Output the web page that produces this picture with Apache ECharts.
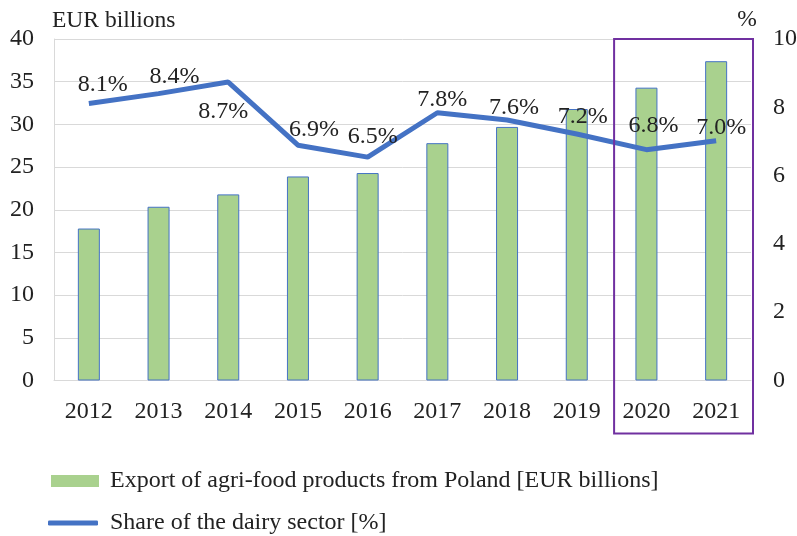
<!DOCTYPE html>
<html>
<head>
<meta charset="utf-8">
<script src="https://cdn.jsdelivr.net/npm/echarts@6/dist/echarts.min.js"></script>
<style>
html,body{margin:0;padding:0;background:#fff;}
#chart{width:797px;height:536px;}
</style>
</head>
<body>
<div id="chart"></div>
<script>
const years = ['2012','2013','2014','2015','2016','2017','2018','2019','2020','2021'];
const exportValues = [17.8, 20.35, 21.8, 23.9, 24.3, 27.8, 29.7, 31.8, 34.3, 37.4];
const dairyShare = [8.11, 8.4, 8.74, 6.89, 6.54, 7.84, 7.63, 7.22, 6.76, 7.02];
const leftTicks = {min: 0, max: 40, interval: 5};
const rightTicks = {min: 0, max: 10, interval: 2};
const barName = 'Export of agri-food products from Poland [EUR billions]';
const lineName = 'Share of the dairy sector [%]';

// label placement tweaks (style only)
const labelOffsets = [[14,-2],[16,0],[-5,13],[16,2],[5,-3],[5,4],[7,5],[6,0],[7,-7],[5,4]];
const labelPositions = ['top','top','bottom','top','top','top','top','top','top','top'];

const FONT = '"Liberation Serif", "Times New Roman", serif';
const TXT = '#222';
const FS = 24;
const BLUE = '#4472C4';

const chart = echarts.init(document.getElementById('chart'), null, {renderer: 'canvas'});

const lineData = dairyShare.map((v, i) => ({
  value: v,
  label: {show: true, position: labelPositions[i], offset: labelOffsets[i]}
}));

const option = {
  animation: false,
  backgroundColor: '#fff',
  textStyle: {fontFamily: FONT, color: TXT},
  grid: {left: 54, right: 46, top: 39, bottom: 155.5, containLabel: false, outerBoundsMode: 'none'},
  legend: [
    {
      orient: 'horizontal',
      left: 46,
      top: 464,
      itemWidth: 48,
      itemHeight: 12,
      textStyle: {fontFamily: FONT, fontSize: FS, color: TXT, padding: [0, 0, 0, 6]},
      data: [{name: barName, icon: 'rect', itemStyle: {borderWidth: 0}}]
    },
    {
      orient: 'horizontal',
      left: 43,
      top: 506,
      itemWidth: 50,
      itemHeight: 5,
      textStyle: {fontFamily: FONT, fontSize: FS, color: TXT, padding: [0, 0, 0, 7]},
      data: [{name: lineName, icon: 'roundRect', itemStyle: {color: BLUE, opacity: 1}}]
    }
  ],
  xAxis: {
    type: 'category',
    data: years,
    axisLine: {show: true, lineStyle: {color: '#D9D9D9', width: 1}},
    axisTick: {show: false},
    axisLabel: {fontFamily: FONT, fontSize: FS, color: TXT, margin: 19}
  },
  yAxis: [
    {
      type: 'value',
      name: 'EUR billions',
      nameLocation: 'end',
      nameGap: 6,
      nameTextStyle: {fontFamily: FONT, fontSize: 23.5, color: TXT, align: 'left', padding: [0, 0, 0, -2]},
      min: leftTicks.min, max: leftTicks.max, interval: leftTicks.interval,
      axisLine: {show: true, lineStyle: {color: '#D9D9D9', width: 1}},
      axisTick: {show: false},
      splitLine: {show: true, lineStyle: {color: '#D9D9D9', width: 1}},
      axisLabel: {fontFamily: FONT, fontSize: FS, color: TXT, margin: 20}
    },
    {
      type: 'value',
      name: '%',
      nameLocation: 'end',
      nameGap: 7,
      nameTextStyle: {fontFamily: FONT, fontSize: 23.5, color: TXT, align: 'center', padding: [0, 8, 0, 0]},
      min: rightTicks.min, max: rightTicks.max, interval: rightTicks.interval,
      axisLine: {show: false},
      axisTick: {show: false},
      splitLine: {show: false},
      axisLabel: {fontFamily: FONT, fontSize: FS, color: TXT, margin: 22}
    }
  ],
  series: [
    {
      name: barName,
      type: 'bar',
      yAxisIndex: 0,
      data: exportValues,
      barWidth: 22,
      itemStyle: {color: '#A9D18E', borderColor: BLUE, borderWidth: 1}
    },
    {
      name: lineName,
      type: 'line',
      yAxisIndex: 1,
      data: lineData,
      symbol: 'circle',
      symbolSize: 0.1,
      showSymbol: true,
      lineStyle: {color: BLUE, width: 5},
      itemStyle: {color: BLUE},
      label: {
        show: true,
        distance: 5,
        fontFamily: FONT,
        fontSize: FS,
        color: TXT,
        formatter: p => Number(p.value).toFixed(1) + '%'
      },
      z: 5
    }
  ]
};

chart.setOption(option);

// highlight box around the last two categories, located through the axes
const n = years.length;
const pPrev = chart.convertToPixel({xAxisIndex: 0}, years[n - 3]);
const pFirst = chart.convertToPixel({xAxisIndex: 0}, years[n - 2]);
const pLast = chart.convertToPixel({xAxisIndex: 0}, years[n - 1]);
const band = pLast - pFirst;
const yTop = chart.convertToPixel({yAxisIndex: 0}, leftTicks.max);
const yZero = chart.convertToPixel({yAxisIndex: 0}, leftTicks.min);
const boxLeft = (pPrev + pFirst) / 2 + 2.5;
const boxRight = pLast + band / 2 + 2;
chart.setOption({
  graphic: [{
    type: 'rect',
    shape: {x: boxLeft, y: yTop, width: boxRight - boxLeft, height: (yZero + 53) - yTop},
    style: {fill: 'none', stroke: '#7030A0', lineWidth: 2},
    z: 10
  }]
});
</script>
</body>
</html>
